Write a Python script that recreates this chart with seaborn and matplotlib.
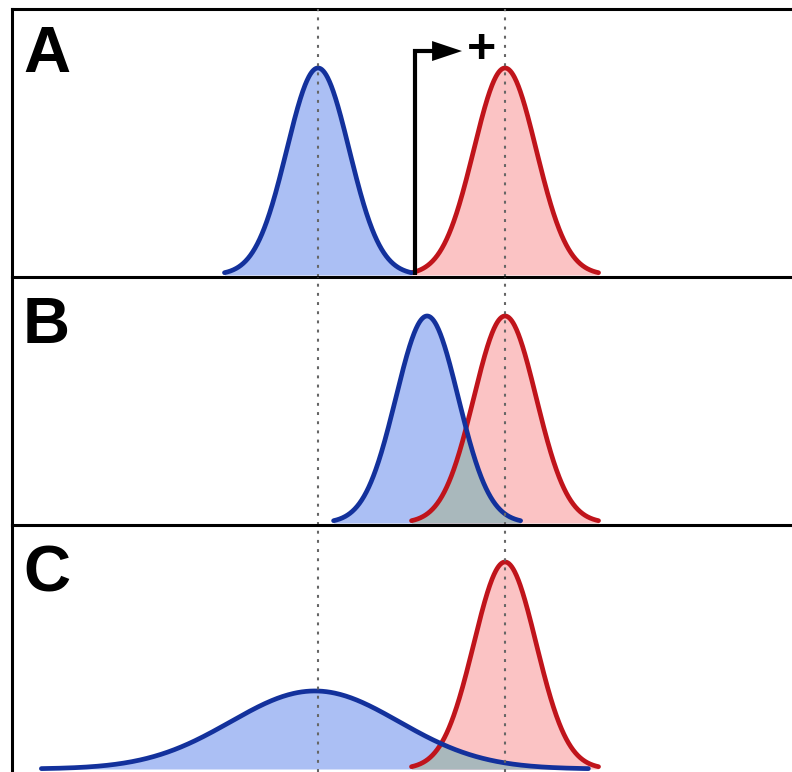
import numpy as np
import pandas as pd
import matplotlib
matplotlib.use("Agg")
import matplotlib.pyplot as plt
import seaborn as sns

# Panel definitions: two bell curves per panel (blue and red)
panels = ["A", "B", "C"]
blue_mean = [0.0, 3.5, -0.1]
blue_sd = [1.0, 1.0, 2.7]
blue_peak = [1.0, 1.0, 0.377]
blue_span = [3.0, 3.0, 3.25]
red_mean = [6.0, 6.0, 6.0]
red_sd = [1.0, 1.0, 1.0]
red_peak = [1.0, 1.0, 1.0]
red_span = [3.0, 3.0, 3.0]
guide_x = [0.0, 6.0]
threshold_x = 3.1
threshold_top = 1.082
threshold_label = "+"

BLUE_LINE = "#13319c"
BLUE_FILL = "#abbff4"
RED_LINE = "#c0141b"
RED_FILL = "#fbc3c4"
OVERLAP_FILL = "#a9b8bc"

sns.set_theme(style="white")
plt.rcParams["font.family"] = ["Liberation Sans", "DejaVu Sans"]

W, H = 792, 772
fig = plt.figure(figsize=(W / 100, H / 100), dpi=100)
fig.patch.set_facecolor("white")

# panel extents in pixel rows (top, bottom) and the baseline row
rows = [(9, 277, 275), (277, 525, 523), (525, 772, 769)]
px_per_unit_x = 31.17
x0_px = 318
px_per_unit_y = 207.0
xlim = ((12 - x0_px) / px_per_unit_x, (W - x0_px) / px_per_unit_x)


def bell(x, m, s, h):
    return h * np.exp(-0.5 * ((x - m) / s) ** 2)


for i, name in enumerate(panels):
    top, bot, base = rows[i]
    ax = fig.add_axes([12 / W, 1 - bot / H, 1 - 12 / W, (bot - top) / H])
    ax.set_facecolor("none")
    ax.set_xlim(*xlim)
    ax.set_ylim(-(bot - base) / px_per_unit_y, (base - top) / px_per_unit_y)

    xb = np.linspace(blue_mean[i] - blue_span[i] * blue_sd[i],
                     blue_mean[i] + blue_span[i] * blue_sd[i], 400)
    yb = bell(xb, blue_mean[i], blue_sd[i], blue_peak[i])
    xr = np.linspace(red_mean[i] - red_span[i] * red_sd[i],
                     red_mean[i] + red_span[i] * red_sd[i], 400)
    yr = bell(xr, red_mean[i], red_sd[i], red_peak[i])

    ax.fill_between(xb, 0, yb, color=BLUE_FILL, lw=0, zorder=1)
    ax.fill_between(xr, 0, yr, color=RED_FILL, lw=0, zorder=1)

    # shared area under both curves
    lo = max(xb.min(), xr.min())
    hi = min(xb.max(), xr.max())
    if hi > lo:
        xo = np.linspace(lo, hi, 400)
        yo = np.minimum(bell(xo, blue_mean[i], blue_sd[i], blue_peak[i]),
                        bell(xo, red_mean[i], red_sd[i], red_peak[i]))
        ax.fill_between(xo, 0, yo, color=OVERLAP_FILL, lw=0, zorder=2)

    curves = pd.DataFrame({"x": np.concatenate([xr, xb]),
                           "y": np.concatenate([yr, yb]),
                           "group": ["red"] * len(xr) + ["blue"] * len(xb)})
    sns.lineplot(data=curves, x="x", y="y", hue="group",
                 palette={"red": RED_LINE, "blue": BLUE_LINE},
                 sort=False, estimator=None, lw=3.4, legend=False, ax=ax,
                 zorder=3)
    for line in ax.lines:
        line.set_solid_capstyle("round")

    for gx in guide_x:
        ax.axvline(gx, color="#666666", lw=1.5, ls=(0, (1.4, 3.0)), zorder=5)

    if name == "A":
        ax.plot([threshold_x, threshold_x, 3.8],
                [0, threshold_top, threshold_top],
                color="black", lw=3, solid_joinstyle="miter",
                solid_capstyle="butt", zorder=6)
        hh = 10 / px_per_unit_y
        ax.fill([3.66, 4.62, 3.66],
                [threshold_top - hh, threshold_top, threshold_top + hh],
                color="black", lw=0, zorder=6)
        ax.text(5.25, threshold_top + 0.005, threshold_label, fontsize=36,
                fontweight="bold", ha="center", va="center", color="black",
                zorder=6)

    ax.set_xticks([])
    ax.set_yticks([])
    ax.set_xlabel("")
    ax.set_ylabel("")
    for side in ("top", "right", "bottom", "left"):
        ax.spines[side].set_visible(False)
    ax.spines["left"].set_visible(True)
    ax.spines["left"].set_linewidth(2.2)
    ax.spines["left"].set_color("black")
    if name == "A":
        ax.spines["top"].set_visible(True)
        ax.spines["top"].set_linewidth(2.2)
        ax.spines["top"].set_color("black")
    if name != "C":
        ax.spines["bottom"].set_visible(True)
        ax.spines["bottom"].set_linewidth(2.2)
        ax.spines["bottom"].set_color("black")
        ax.spines["bottom"].set_zorder(10)

# panel letters
letter_baseline = [72, 343, 591]
for name, yb_px in zip(panels, letter_baseline):
    fig.text(23 / W, 1 - yb_px / H, name, fontsize=47, fontweight="bold",
             ha="left", va="baseline", color="black")

fig.savefig("out.png", dpi=100, facecolor="white")
